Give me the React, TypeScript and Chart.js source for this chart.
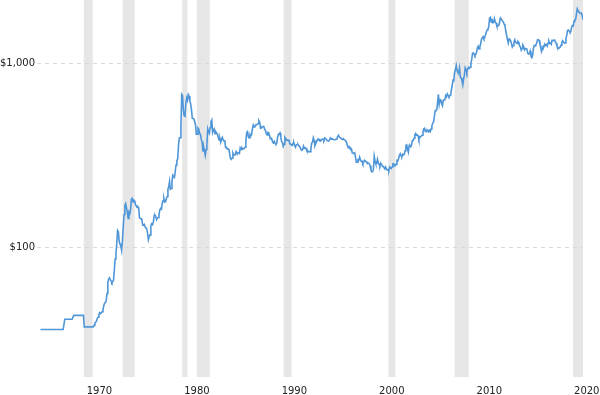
import { useEffect, useRef } from 'react';
import { Chart, registerables } from 'chart.js';

Chart.register(...registerables);

// Monthly gold price (USD / oz), first value = July 1965
const FIRST_YEAR = 1965;
const FIRST_MONTH = 7;

const gold1960s = [
  35.6, 35.6, 35.6, 35.6, 35.6, 35.6,
  35.6, 35.6, 35.6, 35.6, 35.6, 35.6, 35.6, 35.6, 35.6, 35.6, 35.6, 35.6,
  35.6, 35.6, 35.6, 35.6, 35.6, 35.6, 35.6, 35.6, 35.6, 35.6, 35.6, 35.6,
  40.5, 40.5, 40.5, 40.5, 40.5, 40.5, 40.5, 40.5, 40.5, 40.5, 40.5, 42.5,
  42.5, 42.5, 42.5, 42.5, 42.5, 42.5, 42.5, 42.5, 42.5, 42.5, 42.5, 42.5,
];

const gold1970s = [
  36.8, 36.8, 36.8, 36.8, 36.8, 36.8, 36.8, 36.8, 36.8, 36.8, 36.8, 36.8,
  37.5, 38.5, 39, 39.5, 41, 41.5, 43, 44, 43.5, 44, 44.5, 45.5,
  48, 49.5, 50, 51, 56, 64, 67, 68, 66.5, 65.5, 64, 65,
  66, 75, 86, 92, 104, 123, 121, 107, 104, 101, 96, 108,
  129.2, 150.2, 168.4, 172.2, 163.3, 154.1, 143, 154.6, 151.8, 158.8, 181.7, 183.9,
  175.8, 179.6, 178.6, 170, 167.4, 164.3, 165.2, 163.1, 144.1, 142.8, 142.8, 139.3,
  131.6, 131.2, 132.6, 128.2, 126.8, 125.6, 118, 109.8, 114.2, 116.4, 130.5, 133.9,
  132.3, 136.3, 148.2, 149.2, 146.6, 140.8, 143.4, 144.8, 149.6, 159.2, 162, 160.5,
  173.2, 178.2, 183.7, 175.4, 176.3, 183.1, 188.2, 206.1, 212.4, 227.4, 206, 207.8,
  227.3, 245.7, 242, 239.2, 257.6, 279.1, 294.7, 301, 355.2, 391.7, 392.5, 455.1,
];

const gold1980s = [
  675.3, 665.3, 553.6, 517.4, 513.8, 600.7, 644.3, 626.5, 673.6, 661.2, 623.5, 596.7,
  557.4, 500.8, 499.8, 495.8, 479.7, 460.8, 409.3, 410.1, 443.1, 437.7, 413.4, 410.1,
  384.4, 374.2, 330.3, 350.4, 333.5, 314.9, 339.2, 364.3, 438.2, 422.8, 414.4, 445.6,
  480.7, 490.3, 419.8, 432.5, 438.4, 412.9, 422.4, 416.3, 411.8, 393.6, 381.3, 388,
  370.9, 386.3, 394.2, 381.3, 377.5, 377.6, 347.6, 347.7, 341.1, 340.2, 341.2, 320.2,
  302.7, 299.1, 304.4, 324.3, 316.5, 316.8, 317.3, 329.7, 323.6, 325.7, 325.2, 322.5,
  345.4, 338.9, 345.7, 340.4, 342.6, 342.8, 348.7, 376.6, 418.2, 423.6, 398.3, 391.3,
  408.3, 401.2, 408.2, 438.3, 460.2, 449.6, 450.5, 460.6, 460.2, 465.4, 467.6, 486.3,
  476.6, 442.1, 443.6, 451.7, 451.3, 451.4, 437.3, 431.3, 412.9, 406.4, 420.1, 418.7,
  404, 387.8, 390.2, 384.4, 371, 367.6, 375, 365.4, 362.6, 367, 394.3, 409.9,
];

const gold1990s = [
  410.1, 416.8, 393.1, 374.3, 369.1, 352.3, 362.5, 394.8, 389.3, 380.6, 381.8, 378.2,
  383.6, 363.8, 363.3, 358.4, 356.8, 366.7, 367.7, 356.2, 348.7, 358.7, 359.6, 361.1,
  354.5, 353.9, 344.3, 338.6, 337.2, 340.8, 353, 342.9, 345.4, 344.4, 335, 334.8,
  329, 329.3, 330.1, 342.2, 367.2, 371.4, 392, 379.8, 355.3, 364.2, 373.8, 383.3,
  386.9, 381.9, 384, 377.3, 381.4, 385.6, 385.5, 380.4, 391.6, 389.8, 384.4, 379.5,
  378.6, 376.5, 382.1, 391, 385.2, 387.6, 386.2, 383.7, 383.1, 383.1, 385.5, 387.4,
  399.5, 404.8, 396.2, 392.9, 391.8, 385.3, 383.5, 387.5, 383.1, 381.1, 377.9, 369.2,
  354.9, 346.6, 351.8, 344.5, 343.8, 340.8, 324, 324, 322.8, 324.9, 306, 288.7,
  289.2, 297.5, 295.9, 308.4, 299.1, 292.3, 292.9, 284.1, 289, 296, 294.1, 291.6,
  287.3, 287.3, 286, 282.6, 276.4, 261.3, 256.2, 256.7, 265, 311.4, 293.6, 283.7,
];

const gold2000s = [
  284.6, 300, 286.4, 280, 275.3, 285.7, 281.6, 274.5, 273.7, 270, 266, 272,
  265.5, 261.9, 263, 260.5, 272.4, 270.2, 267.5, 272.4, 283.4, 283.1, 276.2, 275.9,
  281.7, 295.5, 294, 302.7, 314.5, 321.2, 313.3, 310.3, 319.2, 316.6, 319.2, 333.4,
  356.9, 359, 340.6, 328.2, 355.7, 356.5, 351, 359.8, 378.9, 378.9, 389.9, 407.6,
  414, 405.3, 406.7, 403, 383.8, 392.4, 398.1, 400.5, 405.3, 420.5, 439.4, 442.1,
  424, 423.4, 434.2, 428.9, 421.9, 430.7, 424.5, 437.9, 456, 469.9, 476.7, 510.1,
  549.9, 555, 557.1, 610.6, 675.4, 596.2, 633.8, 632.6, 598.2, 585.8, 627.8, 629.8,
  631.2, 664.8, 654.9, 679.4, 666.9, 655.5, 665.3, 665.4, 712.7, 754.6, 806.3, 803.2,
  889.6, 922.3, 968.4, 909.7, 888.7, 889.5, 939.8, 839, 829.9, 806.6, 760.9, 816.1,
  858.7, 943, 924.3, 890.2, 928.6, 945.7, 934.2, 949.4, 996.6, 1043.2, 1127, 1134.7,
];

const gold2010s = [
  1117.9, 1095.4, 1113.3, 1148.7, 1205.4, 1232.9, 1192.9, 1215.8, 1270.9, 1342, 1369.9, 1390.6,
  1356.4, 1372.7, 1424, 1473.8, 1510.4, 1528.7, 1572.8, 1755.8, 1771.9, 1665.2, 1739, 1652.3,
  1656.1, 1742.6, 1673.8, 1649.7, 1591.2, 1598.8, 1594.3, 1630.3, 1744.8, 1746.6, 1721.6, 1684.8,
  1671.9, 1627.6, 1593.1, 1487.9, 1414, 1343.4, 1285.5, 1351.7, 1348.6, 1316.6, 1275.9, 1221.5,
  1244.3, 1299.6, 1336.1, 1298.5, 1288.7, 1279.1, 1310.6, 1295.1, 1236.6, 1222.5, 1175.3, 1200.6,
  1250.8, 1227.1, 1178.6, 1198.9, 1198.6, 1181.5, 1128.3, 1117.9, 1124.8, 1159.3, 1086.4, 1068.3,
  1097.9, 1199.5, 1245.1, 1242.3, 1260.9, 1276.4, 1336.7, 1340.2, 1326.6, 1266.6, 1238.4, 1157.4,
  1192.1, 1234.2, 1231.4, 1266.9, 1246, 1260.3, 1236.8, 1283, 1314.1, 1279.5, 1281.9, 1264.5,
  1331.3, 1330.7, 1324.7, 1334.8, 1303.5, 1281.6, 1237.7, 1201.7, 1198.4, 1215.4, 1220.7, 1250.4,
  1291.8, 1320.1, 1300.9, 1285.9, 1283.7, 1359, 1413, 1500.4, 1510.6, 1494.8, 1470, 1479.1,
];

const gold2020s = [
  1560.7, 1597.1, 1591.9, 1683.2, 1715.9, 1732.2, 1846.5, 1968.6, 1921.9, 1900.3, 1866.3, 1858.4,
  1867, 1808, 1718,
];

// Recession bands (decimal years)
const recessionStarts = [1969.95, 1973.94, 1980.05, 1981.55, 1990.45, 2001.2, 2008.0, 2020.15];
const recessionEnds = [1970.87, 1975.17, 1980.58, 1982.87, 1991.27, 2001.92, 2009.45, 2021.3];

const xTickYears = [1970, 1980, 1990, 2000, 2010, 2020];
const yTickValues = [100, 1000];

const X_MIN = 1965.15;
const X_MAX = 2021.17;
const Y_MIN = 19.66;
const Y_MAX = 2200;

export default function App() {
  const ref = useRef<HTMLCanvasElement>(null);

  useEffect(() => {
    const canvas = ref.current;
    if (!canvas) return;
    const prices = [...gold1960s, ...gold1970s, ...gold1980s, ...gold1990s, ...gold2000s, ...gold2010s, ...gold2020s];
    const points = prices.map((v, i) => ({ x: FIRST_YEAR + (FIRST_MONTH - 1 + i) / 12, y: v }));

    const bandPlugin = {
      id: 'recessionBands',
      beforeDraw(chart: any) {
        const { ctx, chartArea, scales } = chart;
        const xs = scales.x;
        ctx.save();
        ctx.fillStyle = '#e6e6e6';
        recessionStarts.forEach((s, i) => {
          const x0 = Math.max(xs.getPixelForValue(s), chartArea.left);
          const x1 = Math.min(xs.getPixelForValue(recessionEnds[i]), chartArea.right);
          if (x1 > x0) ctx.fillRect(x0, chartArea.top, x1 - x0, chartArea.bottom - chartArea.top);
        });
        ctx.restore();
      },
    };

    const font = { family: 'DejaVu Sans', size: 10 };

    const chart = new Chart(canvas, {
      type: 'line',
      data: {
        datasets: [
          {
            data: points,
            borderColor: '#4f96d8',
            borderWidth: 1.6,
            pointRadius: 0,
            fill: false,
            tension: 0,
          },
        ],
      },
      options: {
        animation: false,
        responsive: false,
        layout: { padding: { left: 0, right: 17, top: 0, bottom: 0 } },
        plugins: { legend: { display: false }, tooltip: { enabled: false } },
        scales: {
          x: {
            type: 'linear',
            min: X_MIN,
            max: X_MAX,
            grid: { display: false },
            border: { display: false },
            afterBuildTicks: (s: any) => {
              s.ticks = xTickYears.map((v) => ({ value: v + 0.25 }));
            },
            afterFit: (s: any) => {
              s.height = 18;
              s.paddingLeft = 0;
              s.paddingRight = 0;
            },
            ticks: {
              align: 'start',
              padding: 0,
              color: '#222',
              font,
              maxRotation: 0,
              autoSkip: false,
              callback: (v: any) => String(Math.floor(Number(v))),
            },
          },
          y: {
            type: 'logarithmic',
            min: Y_MIN,
            max: Y_MAX,
            grid: { color: '#d9d9d9', drawTicks: false },
            border: { display: false, dash: [4, 4] },
            afterBuildTicks: (s: any) => {
              s.ticks = yTickValues.map((v) => ({ value: v }));
            },
            afterFit: (s: any) => {
              s.width = 37;
              s.paddingTop = 0;
              s.paddingBottom = 0;
            },
            ticks: {
              padding: 2,
              color: '#222',
              font,
              callback: (v: any) => '$' + Number(v).toLocaleString('en-US'),
            },
          },
        },
      } as any,
      plugins: [bandPlugin],
    });
    return () => chart.destroy();
  }, []);

  return (
    <div style={{ position: 'fixed', left: 0, top: 0, width: 600, height: 395, background: '#fff' }}>
      <canvas ref={ref} width={600} height={395} style={{ display: 'block' }} />
    </div>
  );
}
